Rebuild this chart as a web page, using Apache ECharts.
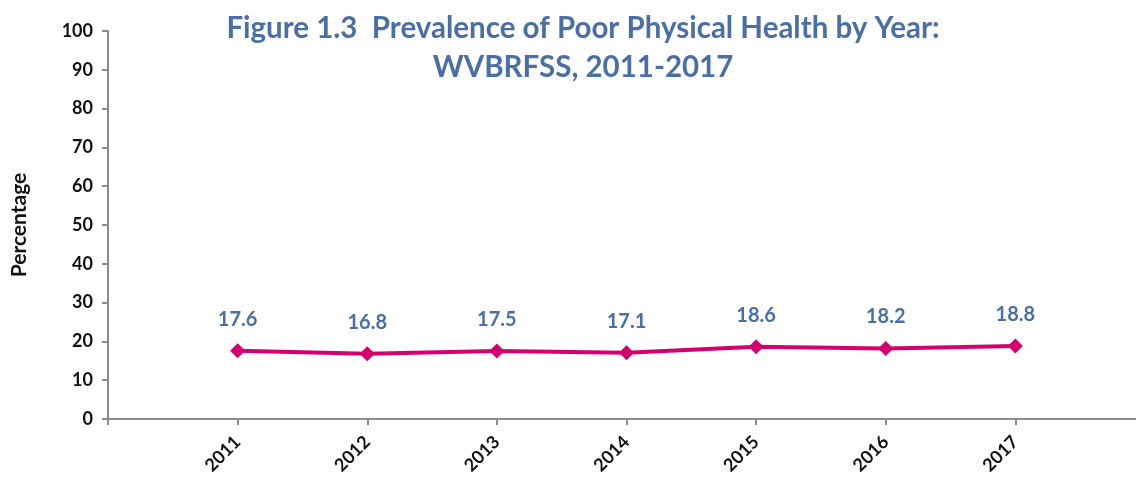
<!DOCTYPE html>
<html lang="en">
<head>
<meta charset="UTF-8">
<title>Prevalence of Poor Physical Health</title>
<script src="https://cdn.jsdelivr.net/npm/echarts@6/dist/echarts.min.js"></script>
</head>
<body style="margin:0; background:#fff">
<div id="container" style="width:1136px; height:479px"></div>
<script type="text/javascript">
    // years, padded with empty slots so the axis starts at the origin and runs off to the right
    var years = ['', '2011', '2012', '2013', '2014', '2015', '2016', '2017', ''];
    var prevalence = [null, 17.6, 16.8, 17.5, 17.1, 18.6, 18.2, 18.8, null];
    var yTicks = [0, 100, 10];

    var blue = '#4A6FA5';
    var magenta = '#D4006E';
    var fontFam = 'Lato, "Liberation Sans", sans-serif';

    var myChart = echarts.init(document.getElementById('container'));

    var option = {
        backgroundColor: '#fff',
        animation: false,
        title: {
            text: 'Figure 1.3  Prevalence of Poor Physical Health by Year:\nWVBRFSS, 2011-2017',
            left: 578,
            textAlign: 'center',
            top: 4,
            textStyle: {
                color: blue,
                fontFamily: fontFam,
                fontWeight: 'bold',
                fontSize: 29.5,
                lineHeight: 39
            }
        },
        grid: {
            left: 108,
            right: -9,
            top: 31,
            bottom: 60,
            containLabel: false,
            outerBoundsMode: 'none'
        },
        xAxis: {
            type: 'category',
            data: years,
            boundaryGap: false,
            axisLine: { lineStyle: { color: '#8c8c8c', width: 2 } },
            axisTick: { show: true, interval: 0, length: 6, lineStyle: { color: '#8c8c8c', width: 2 } },
            axisLabel: {
                interval: 0,
                rotate: 45,
                margin: 20,
                color: '#111',
                fontFamily: fontFam,
                fontWeight: 'bold',
                fontSize: 18
            },
            splitLine: { show: false }
        },
        yAxis: {
            type: 'value',
            min: yTicks[0],
            max: yTicks[1],
            interval: yTicks[2],
            name: 'Percentage',
            nameLocation: 'middle',
            nameGap: 78,
            nameTextStyle: {
                color: '#111',
                fontFamily: fontFam,
                fontWeight: 'bold',
                fontSize: 21
            },
            axisLine: { show: true, lineStyle: { color: '#8c8c8c', width: 2 } },
            axisTick: { show: true, length: 6, lineStyle: { color: '#8c8c8c', width: 2 } },
            axisLabel: {
                margin: 15,
                color: '#111',
                fontFamily: fontFam,
                fontWeight: 'bold',
                fontSize: 18
            },
            splitLine: { show: false }
        },
        series: [{
            type: 'line',
            data: prevalence,
            connectNulls: false,
            symbol: 'diamond',
            symbolSize: 15,
            lineStyle: { color: magenta, width: 4 },
            itemStyle: { color: magenta },
            label: {
                show: true,
                position: 'top',
                distance: 14,
                color: blue,
                fontFamily: fontFam,
                fontWeight: 'bold',
                fontSize: 20
            }
        }]
    };

    myChart.setOption(option, true);
</script>
</body>
</html>
